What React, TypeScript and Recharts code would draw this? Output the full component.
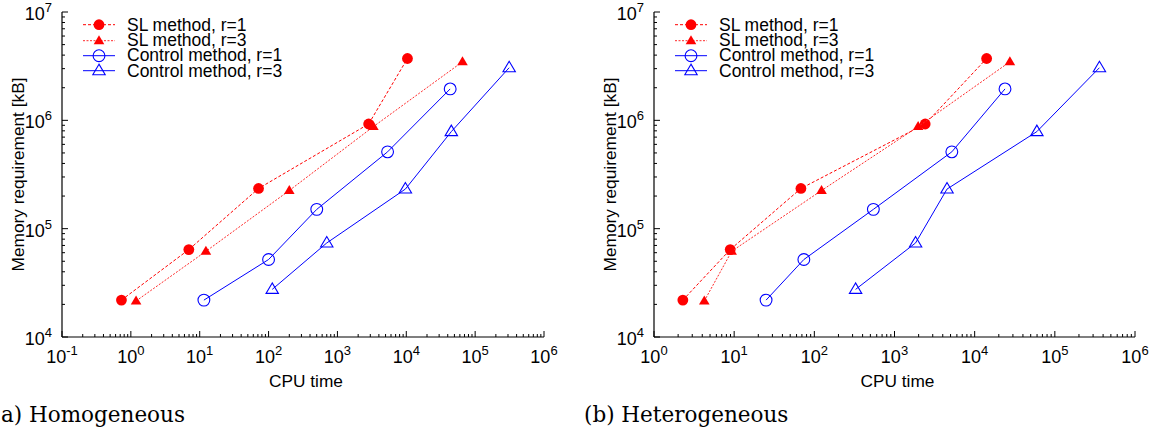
import React from 'react';
import { ScatterChart, Scatter, XAxis, YAxis, Legend, Label } from 'recharts';

const SANS = '"Liberation Sans", Arial, Helvetica, sans-serif';
const SERIF = '"DejaVu Serif", serif';
const RED = '#ff0000';
const BLUE = '#0000ff';

// (a) Homogeneous: CPU time / memory [kB]
const homSl1Time = [0.73, 6.95, 71.5, 2840, 10400];
const homSl1Mem = [21900, 64100, 235000, 925000, 3720000];
const homSl3Time = [1.19, 12.3, 200, 3330, 65500];
const homSl3Mem = [21500, 61800, 225000, 875000, 3470000];
const homCtl1Time = [11.5, 100, 501, 5350, 43400];
const homCtl1Mem = [21900, 51900, 150700, 512000, 1950000];
const homCtl3Time = [113, 700, 9700, 45100, 312000];
const homCtl3Mem = [27500, 73800, 232000, 787000, 3060000];

// (b) Heterogeneous
const hetSl1Time = [2.29, 8.93, 68, 2414, 14100];
const hetSl1Mem = [21900, 64100, 235000, 925000, 3720000];
const hetSl3Time = [4.24, 9.3, 123, 1972, 27500];
const hetSl3Mem = [21500, 61800, 225000, 875000, 3470000];
const hetCtl1Time = [25, 74, 545, 5190, 23900];
const hetCtl1Mem = [21900, 51900, 150700, 512000, 1950000];
const hetCtl3Time = [327, 1832, 4520, 59700, 360000];
const hetCtl3Mem = [27500, 73800, 232000, 787000, 3060000];

const seriesNames = ['SL method, r=1', 'SL method, r=3', 'Control method, r=1', 'Control method, r=3'];
const homXExps = [-1, 0, 1, 2, 3, 4, 5, 6];
const hetXExps = [0, 1, 2, 3, 4, 5, 6];
const yExps = [4, 5, 6, 7];
const minorSteps = [2, 3, 4, 5, 6, 7, 8, 9];

const zip = (t: number[], m: number[]) => t.map((v, i) => ({ t: v, m: m[i] }));

const logTicks = (exps: number[]) => {
  const out: number[] = [];
  exps.forEach((e, i) => {
    out.push(Math.pow(10, e));
    if (i < exps.length - 1) minorSteps.forEach((s) => out.push(s * Math.pow(10, e)));
  });
  return out;
};

const expOf = (v: number) => {
  const e = Math.log10(v);
  return Math.abs(e - Math.round(e)) < 1e-6 ? Math.round(e) : null;
};

const LogTick = (props: any) => {
  const { x, y, payload, side, showLabel } = props;
  const exp = expOf(payload.value);
  const len = exp !== null ? 6 : 3;
  let line;
  if (side === 'bottom') line = <line x1={x} y1={y} x2={x} y2={y - len} />;
  else if (side === 'top') line = <line x1={x} y1={y} x2={x} y2={y + len} />;
  else if (side === 'left') line = <line x1={x} y1={y} x2={x + len} y2={y} />;
  else line = <line x1={x} y1={y} x2={x - len} y2={y} />;
  return (
    <g stroke="#000" strokeWidth={1}>
      {line}
      {showLabel && exp !== null && (
        <text
          x={side === 'left' ? x - 10 : x}
          y={side === 'left' ? y + 8 : y + 26}
          textAnchor={side === 'left' ? 'end' : 'middle'}
          fontFamily={SANS}
          fontSize={18}
          fill="#000"
          stroke="none"
        >
          10
          <tspan dy={-8} fontSize={13}>{exp}</tspan>
        </text>
      )}
    </g>
  );
};

const Marker = ({ cx, cy, kind }: { cx: number; cy: number; kind: number }) => {
  if (kind === 0) return <circle cx={cx} cy={cy} r={5.4} fill={RED} />;
  if (kind === 1)
    return <polygon points={`${cx},${cy - 5.5} ${cx - 5.3},${cy + 3.5} ${cx + 5.3},${cy + 3.5}`} fill={RED} />;
  if (kind === 2) return <circle cx={cx} cy={cy} r={5.9} fill="none" stroke={BLUE} strokeWidth={1.1} />;
  return (
    <polygon
      points={`${cx},${cy - 6.5} ${cx - 6.2},${cy + 4} ${cx + 6.2},${cy + 4}`}
      fill="none"
      stroke={BLUE}
      strokeWidth={1.1}
    />
  );
};

const lineStyles = [
  { stroke: RED, strokeWidth: 1, strokeDasharray: '3 2' },
  { stroke: '#ff2a2a', strokeWidth: 1, strokeDasharray: '2 1.5' },
  { stroke: BLUE, strokeWidth: 1 },
  { stroke: BLUE, strokeWidth: 1 },
];

const LegendBox = () => (
  <div style={{ fontFamily: SANS, fontSize: 17.5, color: '#000' }}>
    {seriesNames.map((name, i) => (
      <div key={name} style={{ display: 'flex', alignItems: 'center', height: 15.4, whiteSpace: 'nowrap' }}>
        <svg width={44} height={15.4} style={{ overflow: 'visible' }}>
          <line x1={0} y1={7.7} x2={32} y2={7.7} {...lineStyles[i]} />
          <Marker cx={16} cy={7.7} kind={i} />
        </svg>
        <span>{name}</span>
      </div>
    ))}
  </div>
);

const YTitle = (p: any) => {
  const vb = p.viewBox;
  const cx = vb.x + vb.width - 44;
  const cy = vb.y + vb.height / 2;
  return (
    <text
      x={cx}
      y={cy}
      transform={`rotate(-90 ${cx} ${cy})`}
      textAnchor="middle"
      dominantBaseline="central"
      fontFamily={SANS}
      fontSize={17.3}
      fill="#000"
    >
      Memory requirement [kB]
    </text>
  );
};

const XTitle = (p: any) => {
  const vb = p.viewBox;
  return (
    <text x={vb.x + vb.width / 2 + 3} y={vb.y + 50} textAnchor="middle" fontFamily={SANS} fontSize={17.3} fill="#000">
      CPU time
    </text>
  );
};

interface PanelProps {
  left: number;
  xExps: number[];
  yAxisWidth: number;
  marginRight: number;
  series: { t: number; m: number }[][];
}

const Panel: React.FC<PanelProps> = ({ left, xExps, yAxisWidth, marginRight, series }) => {
  const xTicks = logTicks(xExps);
  const yTicks = logTicks(yExps);
  const xDomain = [Math.pow(10, xExps[0]), Math.pow(10, xExps[xExps.length - 1])];
  const yDomain = [Math.pow(10, yExps[0]), Math.pow(10, yExps[yExps.length - 1])];
  return (
    <div style={{ position: 'absolute', left, top: 0 }}>
      <ScatterChart width={580} height={395} margin={{ top: 12, right: marginRight, bottom: 0, left: 0 }}>
        <XAxis
          xAxisId={0}
          dataKey="t"
          type="number"
          scale="log"
          domain={xDomain}
          allowDataOverflow
          ticks={xTicks}
          interval={0}
          height={58}
          tickSize={0}
          tickMargin={0}
          tickLine={false}
          axisLine={{ stroke: '#000', strokeWidth: 1.2 }}
          tick={<LogTick side="bottom" showLabel />}
        >
          <Label content={<XTitle />} />
        </XAxis>
        <XAxis
          xAxisId="top"
          orientation="top"
          type="number"
          scale="log"
          domain={xDomain}
          allowDataOverflow
          ticks={xTicks}
          interval={0}
          height={0}
          tickSize={0}
          tickMargin={0}
          tickLine={false}
          axisLine={{ stroke: '#000', strokeWidth: 1.2 }}
          tick={<LogTick side="top" />}
        />
        <YAxis
          yAxisId={0}
          dataKey="m"
          type="number"
          scale="log"
          domain={yDomain}
          allowDataOverflow
          ticks={yTicks}
          interval={0}
          width={yAxisWidth}
          tickSize={0}
          tickMargin={0}
          tickLine={false}
          axisLine={{ stroke: '#000', strokeWidth: 1.2 }}
          tick={<LogTick side="left" showLabel />}
        >
          <Label content={<YTitle />} />
        </YAxis>
        <YAxis
          yAxisId="right"
          orientation="right"
          type="number"
          scale="log"
          domain={yDomain}
          allowDataOverflow
          ticks={yTicks}
          interval={0}
          width={0}
          tickSize={0}
          tickMargin={0}
          tickLine={false}
          axisLine={{ stroke: '#000', strokeWidth: 1.2 }}
          tick={<LogTick side="right" />}
        />
        <Legend
          layout="vertical"
          align="center"
          verticalAlign="middle"
          wrapperStyle={{ left: yAxisWidth + 21, top: 17.3, width: 'auto' }}
          content={<LegendBox />}
        />
        {series.map((d, i) => (
          <Scatter
            key={seriesNames[i]}
            name={seriesNames[i]}
            data={d}
            xAxisId={0}
            yAxisId={0}
            line={lineStyles[i]}
            lineType="joint"
            shape={(p: any) => <Marker cx={p.cx} cy={p.cy} kind={i} />}
            isAnimationActive={false}
          />
        ))}
      </ScatterChart>
    </div>
  );
};

const App: React.FC = () => {
  const hom = [zip(homSl1Time, homSl1Mem), zip(homSl3Time, homSl3Mem), zip(homCtl1Time, homCtl1Mem), zip(homCtl3Time, homCtl3Mem)];
  const het = [zip(hetSl1Time, hetSl1Mem), zip(hetSl3Time, hetSl3Mem), zip(hetCtl1Time, hetCtl1Mem), zip(hetCtl3Time, hetCtl3Mem)];
  return (
    <div style={{ position: 'absolute', left: 0, top: 0, width: 1160, height: 437, background: '#fff', overflow: 'hidden' }}>
      <Panel left={0} xExps={homXExps} yAxisWidth={62} marginRight={36} series={hom} />
      <Panel left={580} xExps={hetXExps} yAxisWidth={74} marginRight={25} series={het} />
      <svg width={1160} height={437} style={{ position: 'absolute', left: 0, top: 0, pointerEvents: 'none' }}>
        <text x={1} y={422} fontFamily={SERIF} fontSize={21.5} fill="#000">a) Homogeneous</text>
        <text x={584} y={422} fontFamily={SERIF} fontSize={21.5} fill="#000">(b) Heterogeneous</text>
      </svg>
    </div>
  );
};

export default App;
